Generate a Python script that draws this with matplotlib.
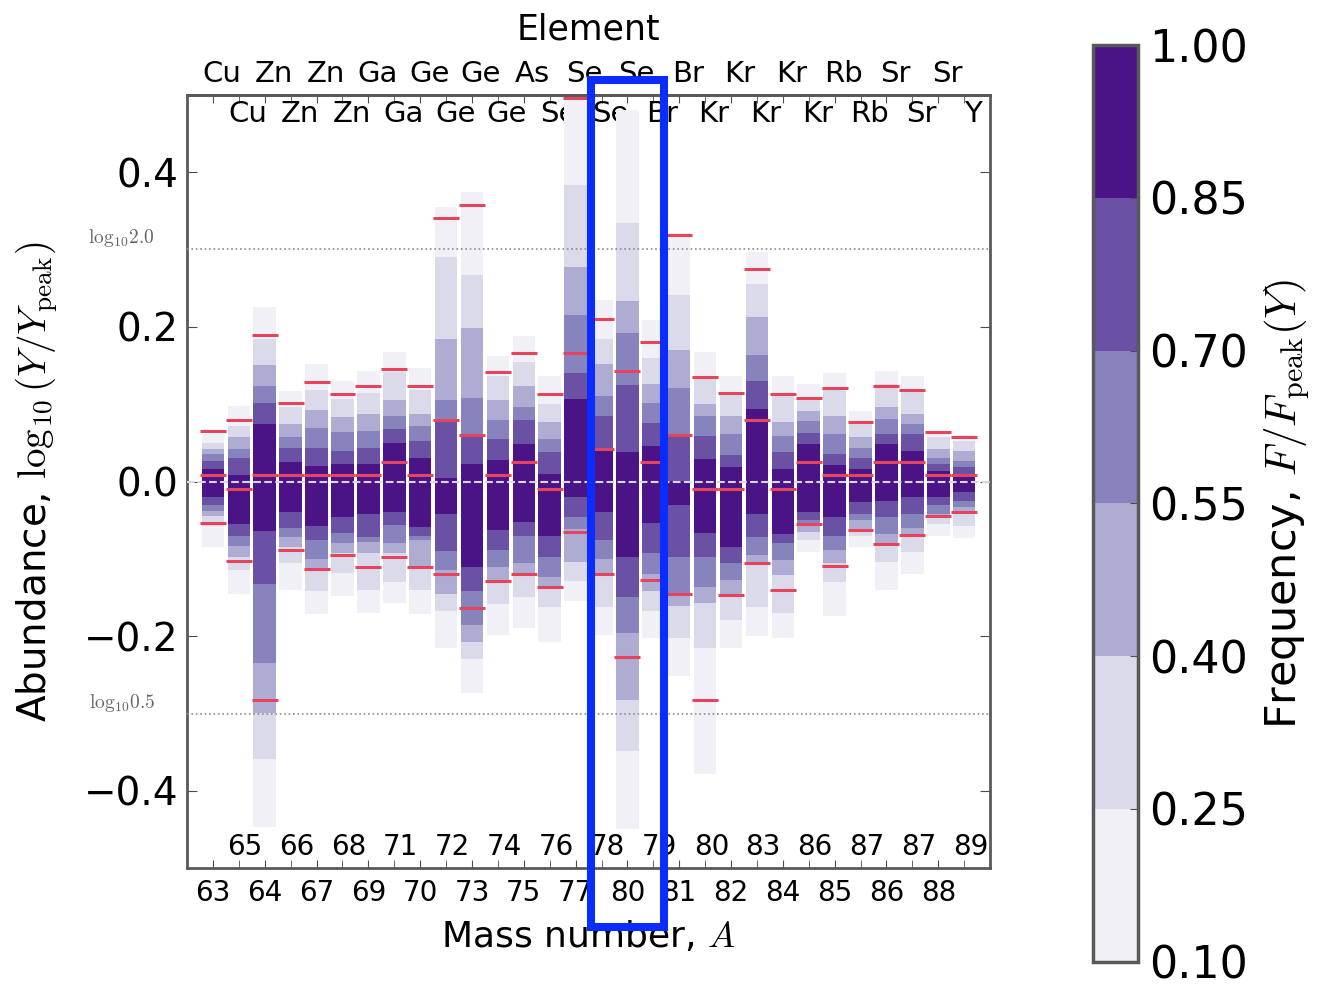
import numpy as np
import matplotlib
matplotlib.use('Agg')
import matplotlib.pyplot as plt
import matplotlib.transforms as mtransforms
from matplotlib.colors import ListedColormap, BoundaryNorm
from matplotlib.cm import ScalarMappable
from matplotlib.patches import Rectangle

plt.rcParams['font.family'] = ['DejaVu Sans']
plt.rcParams['mathtext.fontset'] = 'cm'

# isotopes, in plotting order
mass = [63, 65, 64, 66, 67, 68, 69, 71, 70, 72, 73, 74, 75, 76, 77,
        78, 80, 79, 81, 80, 82, 83, 84, 86, 85, 87, 86, 87, 88, 89]
element = ['Cu', 'Cu', 'Zn', 'Zn', 'Zn', 'Zn', 'Ga', 'Ga', 'Ge', 'Ge',
           'Ge', 'Ge', 'As', 'Se', 'Se', 'Se', 'Se', 'Br', 'Br', 'Kr',
           'Kr', 'Kr', 'Kr', 'Kr', 'Rb', 'Rb', 'Sr', 'Sr', 'Sr', 'Y']

freq_levels = [0.10, 0.25, 0.40, 0.55, 0.70, 0.85, 1.00]
level_colors = ['#f2f0f7', '#dadaeb', '#aeacd3', '#8683bd', '#6a51a3', '#4a1486']

# top / bottom of the region where F/Fpeak >= level (levels 0.10 ... 0.85)
band_hi = [
    [0.062, 0.050, 0.042, 0.035, 0.027, 0.016],
    [0.098, 0.072, 0.058, 0.042, 0.030, 0.008],
    [0.226, 0.185, 0.151, 0.123, 0.102, 0.074],
    [0.117, 0.096, 0.074, 0.057, 0.044, 0.025],
    [0.152, 0.118, 0.093, 0.069, 0.044, 0.020],
    [0.130, 0.107, 0.083, 0.064, 0.040, 0.023],
    [0.143, 0.114, 0.087, 0.066, 0.044, 0.023],
    [0.167, 0.142, 0.106, 0.085, 0.068, 0.050],
    [0.147, 0.119, 0.087, 0.072, 0.053, 0.031],
    [0.355, 0.291, 0.185, 0.106, 0.077, 0.005],
    [0.375, 0.267, 0.198, 0.108, 0.059, 0.023],
    [0.162, 0.137, 0.105, 0.080, 0.055, 0.028],
    [0.188, 0.154, 0.124, 0.096, 0.079, 0.049],
    [0.136, 0.100, 0.077, 0.055, 0.038, 0.010],
    [0.497, 0.383, 0.278, 0.216, 0.141, 0.107],
    [0.235, 0.184, 0.152, 0.111, 0.085, 0.042],
    [0.480, 0.335, 0.233, 0.192, 0.125, 0.038],
    [0.209, 0.160, 0.126, 0.102, 0.076, 0.046],
    [0.322, 0.241, 0.170, 0.121, 0.061, 0.001],
    [0.168, 0.134, 0.100, 0.085, 0.059, 0.029],
    [0.137, 0.115, 0.085, 0.062, 0.034, 0.019],
    [0.297, 0.256, 0.213, 0.164, 0.130, 0.094],
    [0.137, 0.113, 0.077, 0.059, 0.038, 0.016],
    [0.126, 0.109, 0.091, 0.078, 0.063, 0.048],
    [0.140, 0.122, 0.085, 0.062, 0.036, 0.021],
    [0.091, 0.076, 0.057, 0.044, 0.031, 0.016],
    [0.143, 0.126, 0.096, 0.081, 0.062, 0.049],
    [0.137, 0.119, 0.087, 0.074, 0.062, 0.040],
    [0.066, 0.057, 0.042, 0.031, 0.023, 0.014],
    [0.060, 0.053, 0.040, 0.027, 0.019, 0.008],
]
band_lo = [
    [-0.085, -0.058, -0.045, -0.038, -0.030, -0.020],
    [-0.146, -0.115, -0.098, -0.083, -0.070, -0.055],
    [-0.447, -0.359, -0.300, -0.235, -0.132, -0.064],
    [-0.140, -0.105, -0.085, -0.072, -0.060, -0.039],
    [-0.172, -0.142, -0.113, -0.100, -0.076, -0.057],
    [-0.148, -0.118, -0.092, -0.080, -0.066, -0.046],
    [-0.170, -0.140, -0.093, -0.078, -0.072, -0.042],
    [-0.157, -0.130, -0.092, -0.080, -0.056, -0.039],
    [-0.172, -0.140, -0.110, -0.076, -0.070, -0.059],
    [-0.215, -0.168, -0.145, -0.115, -0.090, -0.042],
    [-0.273, -0.230, -0.208, -0.185, -0.141, -0.110],
    [-0.198, -0.159, -0.128, -0.110, -0.089, -0.063],
    [-0.189, -0.149, -0.122, -0.106, -0.070, -0.052],
    [-0.207, -0.162, -0.138, -0.123, -0.097, -0.070],
    [-0.155, -0.129, -0.104, -0.062, -0.046, -0.020],
    [-0.198, -0.162, -0.119, -0.100, -0.076, -0.039],
    [-0.449, -0.348, -0.282, -0.196, -0.149, -0.097],
    [-0.202, -0.168, -0.142, -0.119, -0.093, -0.054],
    [-0.251, -0.202, -0.161, -0.144, -0.097, -0.031],
    [-0.378, -0.215, -0.157, -0.136, -0.097, -0.067],
    [-0.215, -0.179, -0.147, -0.127, -0.106, -0.085],
    [-0.200, -0.162, -0.107, -0.095, -0.072, -0.042],
    [-0.202, -0.170, -0.121, -0.101, -0.080, -0.068],
    [-0.091, -0.075, -0.065, -0.057, -0.050, -0.040],
    [-0.174, -0.130, -0.105, -0.089, -0.070, -0.046],
    [-0.085, -0.070, -0.063, -0.050, -0.042, -0.027],
    [-0.140, -0.104, -0.080, -0.068, -0.046, -0.025],
    [-0.119, -0.091, -0.069, -0.060, -0.042, -0.020],
    [-0.070, -0.055, -0.046, -0.042, -0.031, -0.020],
    [-0.073, -0.057, -0.040, -0.033, -0.025, -0.014],
]

# red markers (upper, middle, lower); nan = not shown
red_hi = [0.066, 0.079, 0.190, 0.101, 0.129, 0.113, 0.123, 0.146, 0.124, 0.341,
          0.358, 0.142, 0.166, 0.113, 0.496, 0.210, np.nan, 0.181, 0.319, 0.135,
          0.115, 0.275, 0.113, 0.108, 0.121, 0.077, 0.124, 0.119, 0.064, 0.058]
red_mid = [0.008, -0.010, 0.008, 0.008, 0.008, 0.008, 0.008, 0.025, 0.008, 0.080,
           0.060, 0.008, 0.025, -0.010, 0.166, 0.042, 0.143, 0.025, 0.060, -0.010,
           -0.010, 0.080, -0.010, 0.025, 0.008, 0.008, 0.025, 0.025, 0.008, 0.008]
red_lo = [-0.053, -0.103, -0.282, -0.088, -0.113, -0.095, -0.111, -0.097, -0.111, -0.119,
          -0.164, -0.129, -0.120, -0.137, -0.065, -0.119, -0.227, -0.128, -0.145, -0.282,
          -0.147, -0.105, -0.140, -0.055, -0.109, -0.063, -0.081, -0.069, -0.045, -0.040]

highlight = 16  # Se-80

fig = plt.figure(figsize=(13.39, 9.9), dpi=100)
ax = fig.add_axes([0.1397, 0.1232, 0.5997, 0.7808])
cax = fig.add_axes([0.8163, 0.0285, 0.0336, 0.926])

x = np.arange(len(mass))
hi = np.array(band_hi)
lo = np.array(band_lo)
for k, col in enumerate(level_colors):
    ax.bar(x, hi[:, k] - lo[:, k], bottom=lo[:, k], width=0.87,
           color=col, linewidth=0, zorder=2)

for vals in (red_hi, red_mid, red_lo):
    ax.hlines(vals, x - 0.5, x + 0.5, colors='#e6435c', lw=2.2, zorder=5)

ax.axhline(np.log10(2.0), color='0.55', ls=':', lw=1.2, zorder=3)
ax.axhline(np.log10(0.5), color='0.55', ls=':', lw=1.2, zorder=3)
ax.axhline(0, color='#d8d6e6', ls='--', lw=1.5, zorder=4)

trans = mtransforms.blended_transform_factory(ax.transAxes, ax.transData)
ax.text(-0.04, np.log10(2.0), r'$\mathrm{log}_{10}2.0$', transform=trans,
        ha='right', va='bottom', fontsize=14, color='0.4')
ax.text(-0.04, np.log10(0.5), r'$\mathrm{log}_{10}0.5$', transform=trans,
        ha='right', va='bottom', fontsize=14, color='0.4')

ax.set_xlim(-1, 30)
ax.set_ylim(-0.5, 0.5)
ax.set_xticks(x[::2], [str(m) for m in mass[::2]])
ax.set_xticks(x[1::2], [str(m) for m in mass[1::2]], minor=True)
ax.tick_params(axis='x', which='both', direction='in', top=False,
               length=6, labelsize=20, color='0.3')
ax.tick_params(axis='x', which='major', pad=8)
ax.tick_params(axis='x', which='minor', pad=-25)
ax.set_yticks([-0.4, -0.2, 0.0, 0.2, 0.4])
ax.tick_params(axis='y', direction='in', right=True, length=7,
               labelsize=28, pad=6, color='0.3')

secax = ax.secondary_xaxis('top')
secax.set_xticks(x[::2], element[::2])
secax.set_xticks(x[1::2], element[1::2], minor=True)
secax.tick_params(which='both', direction='in', length=6, labelsize=21, color='0.3')
secax.tick_params(which='major', pad=5)
secax.tick_params(which='minor', pad=-24)
secax.set_xlabel('Element', fontsize=25, labelpad=15)


def shift_labels(labels, dx_pt):
    off = mtransforms.ScaledTranslation(dx_pt / 72, 0, fig.dpi_scale_trans)
    for lab in labels:
        lab.set_transform(lab.get_transform() + off)


shift_labels(secax.get_xticklabels(), 6.5)
shift_labels(secax.get_xticklabels(minor=True), 6.5)
shift_labels(ax.get_xticklabels(minor=True), 4.5)

for sp in list(ax.spines.values()) + list(secax.spines.values()):
    sp.set_linewidth(2)
    sp.set_color('0.35')

ax.set_xlabel('Mass number, $A$', fontsize=26)
ax.xaxis.set_label_coords(0.5, -0.066)
ax.set_ylabel(r'Abundance, $\log_{10}(Y/Y_{\rm peak})$', fontsize=28)
ax.yaxis.set_label_coords(-0.158, 0.5)

ax.add_patch(Rectangle((highlight - 1.4, -0.576), 2.8, 1.096, fill=False,
                       edgecolor='#0a2cff', lw=5.8, clip_on=False, zorder=10))

cmap = ListedColormap(level_colors)
norm = BoundaryNorm(freq_levels, cmap.N)
cb = fig.colorbar(ScalarMappable(norm=norm, cmap=cmap), cax=cax,
                  ticks=freq_levels, format='%.2f')
cb.ax.tick_params(labelsize=32, direction='in', length=6, pad=8, color='0.3')
cb.outline.set_linewidth(2.5)
cb.outline.set_edgecolor('0.35')
cb.set_label(r'Frequency, $F/F_{\rm peak}(Y)$', fontsize=31, labelpad=10)

fig.savefig('out.png', dpi=100)
